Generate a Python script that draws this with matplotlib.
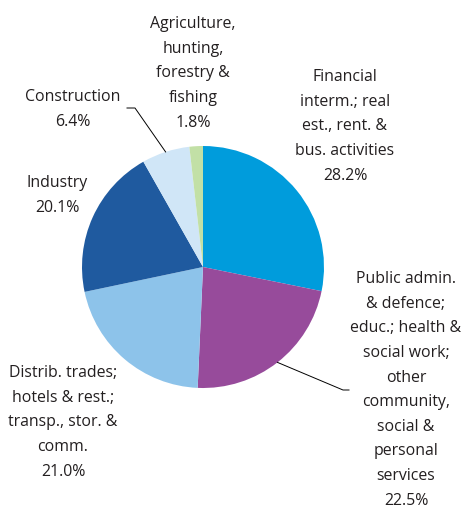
import matplotlib
matplotlib.use("Agg")
import matplotlib.pyplot as plt
import numpy as np

# ── data ─────────────────────────────────────────────
sectors = [
    "Financial\ninterm.; real\nest., rent. &\nbus. activities",
    "Public admin.\n& defence;\neduc.; health &\nsocial work;\nother\ncommunity,\nsocial &\npersonal\nservices",
    "Distrib. trades;\nhotels & rest.;\ntransp., stor. &\ncomm.",
    "Industry",
    "Construction",
    "Agriculture,\nhunting,\nforestry &\nfishing",
]
shares = [28.2, 22.5, 21.0, 20.1, 6.4, 1.8]
colors = ["#009cdc", "#974b9b", "#8dc3ea", "#1f5a9f", "#d0e6f7", "#c2e0a6"]

# label centre (x, top y) in pixel coords, y measured from top
label_pos = [(345, 69), (406, 271), (63, 365), (57, 175), (73, 89), (193, 16)]

W, H = 467, 509
CX, CY, R = 203, 267, 121
TXT = "#231f20"
FONT = "Open Sans"
FS = 11.4

fig = plt.figure(figsize=(W / 100, H / 100), dpi=100)
ax = fig.add_axes([0, 0, 1, 1])

def py(y):
    return H - y

wedges, _ = ax.pie(shares, colors=colors, startangle=90, counterclock=False,
                   center=(CX, py(CY)), radius=R, frame=True,
                   wedgeprops=dict(linewidth=0))
ax.set_xlim(0, W)
ax.set_ylim(0, H)
ax.set_aspect("equal")
ax.axis("off")

for name, val, (x, y) in zip(sectors, shares, label_pos):
    ax.text(x, py(y), f"{name}\n{val:.1f}%", ha="center", va="top",
            fontsize=FS, family=FONT, color=TXT, linespacing=1.72)

# leader lines from wedge mid-angle on the rim
def rim(w):
    a = np.deg2rad((w.theta1 + w.theta2) / 2)
    return CX + R * np.cos(a), py(CY) + R * np.sin(a)

x0, y0 = rim(wedges[4])
ax.plot([x0, 135, 127], [y0, py(108), py(108)], color="black", lw=0.7)
x0, y0 = rim(wedges[1])
ax.plot([x0, 343, 349], [y0, py(390), py(390)], color="black", lw=0.7)

fig.savefig("out.png", dpi=100)
